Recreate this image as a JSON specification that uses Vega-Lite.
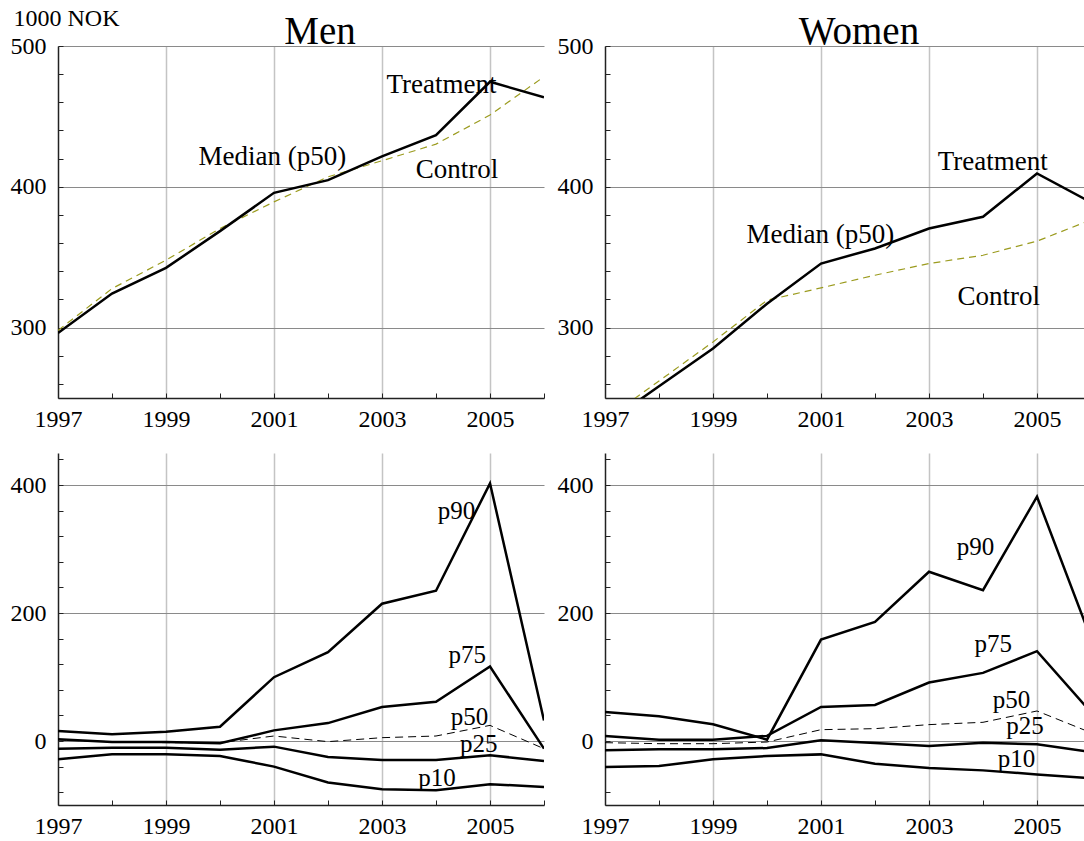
{
  "$schema": "https://vega.github.io/schema/vega-lite/v6.json",
  "background": "white",
  "padding": {"left": 10, "top": 6, "right": 0, "bottom": 0},
  "columns": 2,
  "bounds": "flush",
  "spacing": {"row": 55, "column": 61},
  "config": {
    "font": "Liberation Serif",
    "view": {"stroke": null},
    "axis": {
      "labelFont": "Liberation Serif",
      "labelFontSize": 24,
      "labelColor": "black",
      "labelOverlap": false,
      "labelFlush": false,
      "labelBound": false,
      "domainColor": "#222222",
      "domainWidth": 1.5,
      "tickColor": "#222222",
      "tickWidth": 1,
      "tickSize": -5,
      "titleFont": "Liberation Serif",
      "titleFontWeight": "normal",
      "titleColor": "black"
    },
    "title": {"font": "Liberation Serif", "fontSize": 39, "fontWeight": "normal", "color": "black", "anchor": "middle", "baseline": "alphabetic"},
    "text": {"font": "Liberation Serif", "fontSize": 25, "color": "black"}
  },
  "datasets": {
    "menTop": [
      {"series": "Treatment", "year": 1997, "value": 296.2},
      {"series": "Treatment", "year": 1998, "value": 324.2},
      {"series": "Treatment", "year": 1999, "value": 342.4},
      {"series": "Treatment", "year": 2000, "value": 368.5},
      {"series": "Treatment", "year": 2001, "value": 395.7},
      {"series": "Treatment", "year": 2002, "value": 404.7},
      {"series": "Treatment", "year": 2003, "value": 421.6},
      {"series": "Treatment", "year": 2004, "value": 436.7},
      {"series": "Treatment", "year": 2005, "value": 474.6},
      {"series": "Treatment", "year": 2006, "value": 463.6},
      {"series": "Control", "year": 1997, "value": 298.0},
      {"series": "Control", "year": 1998, "value": 327.7},
      {"series": "Control", "year": 1999, "value": 347.9},
      {"series": "Control", "year": 2000, "value": 370.4},
      {"series": "Control", "year": 2001, "value": 389.3},
      {"series": "Control", "year": 2002, "value": 407.1},
      {"series": "Control", "year": 2003, "value": 418.5},
      {"series": "Control", "year": 2004, "value": 430.3},
      {"series": "Control", "year": 2005, "value": 451.0},
      {"series": "Control", "year": 2006, "value": 478.2}
    ],
    "womenTop": [
      {"series": "Treatment", "year": 1997, "value": 231.5},
      {"series": "Treatment", "year": 1998, "value": 258.3},
      {"series": "Treatment", "year": 1999, "value": 285.1},
      {"series": "Treatment", "year": 2000, "value": 317.0},
      {"series": "Treatment", "year": 2001, "value": 345.5},
      {"series": "Treatment", "year": 2002, "value": 356.2},
      {"series": "Treatment", "year": 2003, "value": 370.4},
      {"series": "Treatment", "year": 2004, "value": 378.7},
      {"series": "Treatment", "year": 2005, "value": 409.5},
      {"series": "Treatment", "year": 2006, "value": 389.0},
      {"series": "Control", "year": 1997, "value": 234.5},
      {"series": "Control", "year": 1998, "value": 262.1},
      {"series": "Control", "year": 1999, "value": 289.8},
      {"series": "Control", "year": 2000, "value": 319.4},
      {"series": "Control", "year": 2001, "value": 328.2},
      {"series": "Control", "year": 2002, "value": 337.2},
      {"series": "Control", "year": 2003, "value": 345.5},
      {"series": "Control", "year": 2004, "value": 351.4},
      {"series": "Control", "year": 2005, "value": 361.4},
      {"series": "Control", "year": 2006, "value": 376.5}
    ],
    "menBot": [
      {"series": "p90", "year": 1997, "value": 15.6},
      {"series": "p90", "year": 1998, "value": 10.4},
      {"series": "p90", "year": 1999, "value": 14.5},
      {"series": "p90", "year": 2000, "value": 22.3},
      {"series": "p90", "year": 2001, "value": 99.7},
      {"series": "p90", "year": 2002, "value": 138.7},
      {"series": "p90", "year": 2003, "value": 214.5},
      {"series": "p90", "year": 2004, "value": 234.8},
      {"series": "p90", "year": 2005, "value": 402.6},
      {"series": "p90", "year": 2006, "value": 32.0},
      {"series": "p75", "year": 1997, "value": 2.6},
      {"series": "p75", "year": 1998, "value": -1.6},
      {"series": "p75", "year": 1999, "value": -1.6},
      {"series": "p75", "year": 2000, "value": -3.6},
      {"series": "p75", "year": 2001, "value": 16.6},
      {"series": "p75", "year": 2002, "value": 28.0},
      {"series": "p75", "year": 2003, "value": 53.0},
      {"series": "p75", "year": 2004, "value": 61.3},
      {"series": "p75", "year": 2005, "value": 116.4},
      {"series": "p75", "year": 2006, "value": -12.0},
      {"series": "p50", "year": 1997, "value": 1.6},
      {"series": "p50", "year": 1998, "value": -1.0},
      {"series": "p50", "year": 1999, "value": -2.6},
      {"series": "p50", "year": 2000, "value": -2.6},
      {"series": "p50", "year": 2001, "value": 7.8},
      {"series": "p50", "year": 2002, "value": -1.0},
      {"series": "p50", "year": 2003, "value": 5.2},
      {"series": "p50", "year": 2004, "value": 7.8},
      {"series": "p50", "year": 2005, "value": 24.4},
      {"series": "p50", "year": 2006, "value": -12.0},
      {"series": "p25", "year": 1997, "value": -12.0},
      {"series": "p25", "year": 1998, "value": -10.4},
      {"series": "p25", "year": 1999, "value": -10.4},
      {"series": "p25", "year": 2000, "value": -13.5},
      {"series": "p25", "year": 2001, "value": -8.8},
      {"series": "p25", "year": 2002, "value": -24.9},
      {"series": "p25", "year": 2003, "value": -29.6},
      {"series": "p25", "year": 2004, "value": -29.6},
      {"series": "p25", "year": 2005, "value": -22.3},
      {"series": "p25", "year": 2006, "value": -31.2},
      {"series": "p10", "year": 1997, "value": -28.6},
      {"series": "p10", "year": 1998, "value": -20.8},
      {"series": "p10", "year": 1999, "value": -20.8},
      {"series": "p10", "year": 2000, "value": -23.4},
      {"series": "p10", "year": 2001, "value": -40.0},
      {"series": "p10", "year": 2002, "value": -64.9},
      {"series": "p10", "year": 2003, "value": -75.3},
      {"series": "p10", "year": 2004, "value": -76.9},
      {"series": "p10", "year": 2005, "value": -67.5},
      {"series": "p10", "year": 2006, "value": -71.7}
    ],
    "womenBot": [
      {"series": "p90", "year": 1997, "value": 45.4},
      {"series": "p90", "year": 1998, "value": 38.6},
      {"series": "p90", "year": 1999, "value": 26.1},
      {"series": "p90", "year": 2000, "value": 2.1},
      {"series": "p90", "year": 2001, "value": 158.5},
      {"series": "p90", "year": 2002, "value": 186.2},
      {"series": "p90", "year": 2003, "value": 264.4},
      {"series": "p90", "year": 2004, "value": 235.7},
      {"series": "p90", "year": 2005, "value": 381.7},
      {"series": "p90", "year": 2006, "value": 160.0},
      {"series": "p75", "year": 1997, "value": 7.8},
      {"series": "p75", "year": 1998, "value": 2.1},
      {"series": "p75", "year": 1999, "value": 2.1},
      {"series": "p75", "year": 2000, "value": 8.0},
      {"series": "p75", "year": 2001, "value": 53.2},
      {"series": "p75", "year": 2002, "value": 56.3},
      {"series": "p75", "year": 2003, "value": 91.3},
      {"series": "p75", "year": 2004, "value": 106.4},
      {"series": "p75", "year": 2005, "value": 140.3},
      {"series": "p75", "year": 2006, "value": 45.0},
      {"series": "p50", "year": 1997, "value": -2.6},
      {"series": "p50", "year": 1998, "value": -4.2},
      {"series": "p50", "year": 1999, "value": -4.2},
      {"series": "p50", "year": 2000, "value": -1.6},
      {"series": "p50", "year": 2001, "value": 17.7},
      {"series": "p50", "year": 2002, "value": 19.3},
      {"series": "p50", "year": 2003, "value": 25.6},
      {"series": "p50", "year": 2004, "value": 29.2},
      {"series": "p50", "year": 2005, "value": 46.9},
      {"series": "p50", "year": 2006, "value": 13.0},
      {"series": "p25", "year": 1997, "value": -14.6},
      {"series": "p25", "year": 1998, "value": -13.0},
      {"series": "p25", "year": 1999, "value": -13.0},
      {"series": "p25", "year": 2000, "value": -11.0},
      {"series": "p25", "year": 2001, "value": 1.0},
      {"series": "p25", "year": 2002, "value": -3.1},
      {"series": "p25", "year": 2003, "value": -7.8},
      {"series": "p25", "year": 2004, "value": -2.6},
      {"series": "p25", "year": 2005, "value": -5.2},
      {"series": "p25", "year": 2006, "value": -17.0},
      {"series": "p10", "year": 1997, "value": -40.7},
      {"series": "p10", "year": 1998, "value": -39.1},
      {"series": "p10", "year": 1999, "value": -28.7},
      {"series": "p10", "year": 2000, "value": -23.5},
      {"series": "p10", "year": 2001, "value": -20.9},
      {"series": "p10", "year": 2002, "value": -35.5},
      {"series": "p10", "year": 2003, "value": -42.2},
      {"series": "p10", "year": 2004, "value": -45.9},
      {"series": "p10", "year": 2005, "value": -52.2},
      {"series": "p10", "year": 2006, "value": -58.0}
    ],
    "menTopLabels": [
      {"label": "Treatment", "year": 2004.1, "value": 466.8},
      {"label": "Median (p50)", "year": 2000.97, "value": 415.8},
      {"label": "Control", "year": 2004.39, "value": 406.5}
    ],
    "womenTopLabels": [
      {"label": "Treatment", "year": 2004.18, "value": 412.0},
      {"label": "Median (p50)", "year": 2000.99, "value": 360.0},
      {"label": "Control", "year": 2004.29, "value": 316.3}
    ],
    "menBotLabels": [
      {"label": "p90", "year": 2004.38, "value": 347},
      {"label": "p75", "year": 2004.58, "value": 122},
      {"label": "p50", "year": 2004.62, "value": 24.4},
      {"label": "p25", "year": 2004.79, "value": -17},
      {"label": "p10", "year": 2004.02, "value": -70}
    ],
    "womenBotLabels": [
      {"label": "p90", "year": 2003.86, "value": 290.5},
      {"label": "p75", "year": 2004.19, "value": 139.2},
      {"label": "p50", "year": 2004.53, "value": 52.2},
      {"label": "p25", "year": 2004.78, "value": 11.5},
      {"label": "p10", "year": 2004.62, "value": -40.7}
    ]
  },
  "concat": [
    {
      "width": 486,
      "height": 352,
      "title": {"text": "Men", "dx": 19, "offset": -46},
      "encoding": {
        "x": {"field": "year", "type": "quantitative", "scale": {"domain": [1997, 2006], "nice": false, "zero": false},
          "axis": {"title": null, "values": [1997, 1998, 1999, 2000, 2001, 2002, 2003, 2004, 2005, 2006], "format": "d",
            "labelExpr": "datum.value % 2 === 1 && datum.value <= 2005 ? datum.label : ''", "labelPadding": 14,
            "grid": true, "gridColor": "#c4c4c4", "gridWidth": 1.5,
            "gridOpacity": {"condition": {"test": "datum.value % 2 === 1 && datum.value > 1997", "value": 1}, "value": 0}}},
        "y": {"field": "value", "type": "quantitative", "scale": {"domain": [250, 500], "nice": false, "zero": false},
          "axis": {"title": "1000 NOK", "titleAngle": 0, "titleAlign": "left", "titleBaseline": "alphabetic", "titleX": -45, "titleY": -21, "titleFontSize": 24,
            "values": [260, 280, 300, 320, 340, 360, 380, 400, 420, 440, 460, 480, 500],
            "labelExpr": "datum.value % 100 === 0 ? datum.label : ''", "labelPadding": 17,
            "grid": true, "gridColor": "#8a8a8a", "gridWidth": 1,
            "gridOpacity": {"condition": {"test": "datum.value % 100 === 0", "value": 1}, "value": 0}}}
      },
      "layer": [
        {"data": {"name": "menTop"}, "transform": [{"filter": "datum.series === 'Control'"}],
          "mark": {"type": "line", "color": "#9b9b1e", "strokeWidth": 1.2, "strokeDash": [7, 5], "clip": true}},
        {"data": {"name": "menTop"}, "transform": [{"filter": "datum.series === 'Treatment'"}],
          "mark": {"type": "line", "color": "black", "strokeWidth": 2.5, "clip": true}},
        {"data": {"name": "menTopLabels"}, "mark": {"type": "text", "align": "center", "baseline": "alphabetic", "fontSize": 27},
          "encoding": {"text": {"field": "label"}}}
      ]
    },
    {
      "width": 480,
      "height": 352,
      "title": {"text": "Women", "dx": 14, "offset": -18},
      "encoding": {
        "x": {"field": "year", "type": "quantitative", "scale": {"domain": [1997, 2005.889], "nice": false, "zero": false},
          "axis": {"title": null, "values": [1997, 1998, 1999, 2000, 2001, 2002, 2003, 2004, 2005], "format": "d",
            "labelExpr": "datum.value % 2 === 1 ? datum.label : ''", "labelPadding": 14,
            "grid": true, "gridColor": "#c4c4c4", "gridWidth": 1.5,
            "gridOpacity": {"condition": {"test": "datum.value % 2 === 1 && datum.value > 1997", "value": 1}, "value": 0}}},
        "y": {"field": "value", "type": "quantitative", "scale": {"domain": [250, 500], "nice": false, "zero": false},
          "axis": {"title": null,
            "values": [260, 280, 300, 320, 340, 360, 380, 400, 420, 440, 460, 480, 500],
            "labelExpr": "datum.value % 100 === 0 ? datum.label : ''", "labelPadding": 17,
            "grid": true, "gridColor": "#8a8a8a", "gridWidth": 1,
            "gridOpacity": {"condition": {"test": "datum.value % 100 === 0", "value": 1}, "value": 0}}}
      },
      "layer": [
        {"data": {"name": "womenTop"}, "transform": [{"filter": "datum.series === 'Control'"}],
          "mark": {"type": "line", "color": "#9b9b1e", "strokeWidth": 1.2, "strokeDash": [7, 5], "clip": true}},
        {"data": {"name": "womenTop"}, "transform": [{"filter": "datum.series === 'Treatment'"}],
          "mark": {"type": "line", "color": "black", "strokeWidth": 2.5, "clip": true}},
        {"data": {"name": "womenTopLabels"}, "mark": {"type": "text", "align": "center", "baseline": "alphabetic", "fontSize": 27},
          "encoding": {"text": {"field": "label"}}}
      ]
    },
    {
      "width": 486,
      "height": 352,
      "encoding": {
        "x": {"field": "year", "type": "quantitative", "scale": {"domain": [1997, 2006], "nice": false, "zero": false},
          "axis": {"title": null, "values": [1997, 1998, 1999, 2000, 2001, 2002, 2003, 2004, 2005, 2006], "format": "d",
            "labelExpr": "datum.value % 2 === 1 && datum.value <= 2005 ? datum.label : ''", "labelPadding": 14,
            "grid": true, "gridColor": "#c4c4c4", "gridWidth": 1.5,
            "gridOpacity": {"condition": {"test": "datum.value % 2 === 1 && datum.value > 1997", "value": 1}, "value": 0}}},
        "y": {"field": "value", "type": "quantitative", "scale": {"domain": [-100, 450], "nice": false, "zero": false},
          "axis": {"title": null,
            "values": [-80, -40, 0, 40, 80, 120, 160, 200, 240, 280, 320, 360, 400, 440],
            "labelExpr": "datum.value % 200 === 0 ? datum.label : ''", "labelPadding": 17,
            "grid": true, "gridColor": "#8a8a8a", "gridWidth": 1,
            "gridOpacity": {"condition": {"test": "datum.value % 200 === 0", "value": 1}, "value": 0}}}
      },
      "layer": [
        {"data": {"name": "menBot"}, "transform": [{"filter": "datum.series === 'p50'"}],
          "mark": {"type": "line", "color": "black", "strokeWidth": 1, "strokeDash": [8, 5], "clip": true}},
        {"data": {"name": "menBot"}, "transform": [{"filter": "datum.series !== 'p50'"}],
          "mark": {"type": "line", "color": "black", "strokeWidth": 2.5, "clip": true},
          "encoding": {"detail": {"field": "series"}}},
        {"data": {"name": "menBotLabels"}, "mark": {"type": "text", "align": "center", "baseline": "alphabetic"},
          "encoding": {"text": {"field": "label"}}}
      ]
    },
    {
      "width": 480,
      "height": 352,
      "encoding": {
        "x": {"field": "year", "type": "quantitative", "scale": {"domain": [1997, 2005.889], "nice": false, "zero": false},
          "axis": {"title": null, "values": [1997, 1998, 1999, 2000, 2001, 2002, 2003, 2004, 2005], "format": "d",
            "labelExpr": "datum.value % 2 === 1 ? datum.label : ''", "labelPadding": 14,
            "grid": true, "gridColor": "#c4c4c4", "gridWidth": 1.5,
            "gridOpacity": {"condition": {"test": "datum.value % 2 === 1 && datum.value > 1997", "value": 1}, "value": 0}}},
        "y": {"field": "value", "type": "quantitative", "scale": {"domain": [-100, 450], "nice": false, "zero": false},
          "axis": {"title": null,
            "values": [-80, -40, 0, 40, 80, 120, 160, 200, 240, 280, 320, 360, 400, 440],
            "labelExpr": "datum.value % 200 === 0 ? datum.label : ''", "labelPadding": 17,
            "grid": true, "gridColor": "#8a8a8a", "gridWidth": 1,
            "gridOpacity": {"condition": {"test": "datum.value % 200 === 0", "value": 1}, "value": 0}}}
      },
      "layer": [
        {"data": {"name": "womenBot"}, "transform": [{"filter": "datum.series === 'p50'"}],
          "mark": {"type": "line", "color": "black", "strokeWidth": 1, "strokeDash": [8, 5], "clip": true}},
        {"data": {"name": "womenBot"}, "transform": [{"filter": "datum.series !== 'p50'"}],
          "mark": {"type": "line", "color": "black", "strokeWidth": 2.5, "clip": true},
          "encoding": {"detail": {"field": "series"}}},
        {"data": {"name": "womenBotLabels"}, "mark": {"type": "text", "align": "center", "baseline": "alphabetic"},
          "encoding": {"text": {"field": "label"}}}
      ]
    }
  ]
}
